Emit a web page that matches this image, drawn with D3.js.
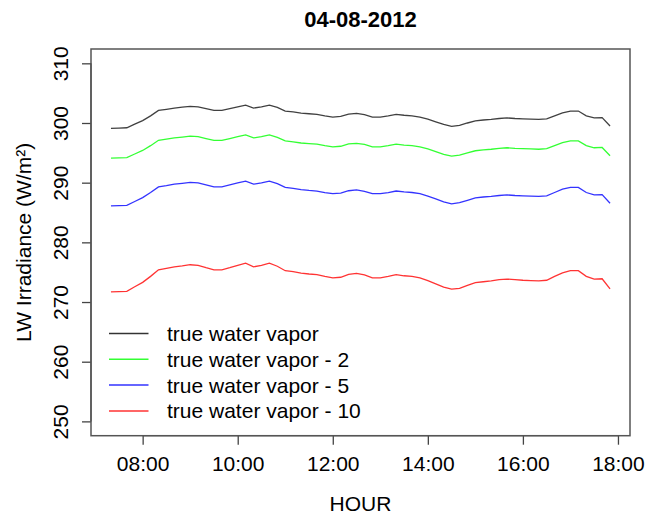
<!DOCTYPE html>
<html>
<head>
<meta charset="utf-8">
<script src="https://cdn.jsdelivr.net/npm/d3@7"></script>
<style>
  body { margin: 0; background: #fff; }
  text { font-family: "Liberation Sans", Arial, sans-serif; fill: #000; }
</style>
</head>
<body>
<div id="chart"></div>
<script>
// time stamps (10 min steps) on 04-08-2012
const times = [
  "07:20","07:30","07:40","07:50","08:00","08:10","08:20","08:30","08:40","08:50",
  "09:00","09:10","09:20","09:30","09:40","09:50","10:00","10:10","10:20","10:30",
  "10:40","10:50","11:00","11:10","11:20","11:30","11:40","11:50","12:00","12:10",
  "12:20","12:30","12:40","12:50","13:00","13:10","13:20","13:30","13:40","13:50",
  "14:00","14:10","14:20","14:30","14:40","14:50","15:00","15:10","15:20","15:30",
  "15:40","15:50","16:00","16:10","16:20","16:30","16:40","16:50","17:00","17:10",
  "17:20","17:30","17:40","17:50"
];

const trueWV = [
  299.1,299.15,299.2,299.8,300.4,301.2,302.1,302.3,302.5,302.65,
  302.8,302.7,302.4,302.1,302.1,302.4,302.7,303.0,302.5,302.7,
  303.0,302.6,302.0,301.85,301.65,301.55,301.45,301.2,301.0,301.1,
  301.5,301.6,301.4,301.0,301.0,301.2,301.45,301.3,301.2,301.0,
  300.65,300.2,299.75,299.45,299.6,300.0,300.35,300.5,300.6,300.75,
  300.85,300.75,300.7,300.65,300.6,300.7,301.2,301.7,302.0,302.0,
  301.2,300.85,300.9,299.5
];

const wvMinus2 = [
  294.1,294.15,294.2,294.8,295.4,296.2,297.1,297.3,297.5,297.65,
  297.8,297.7,297.4,297.1,297.1,297.4,297.7,298.0,297.5,297.7,
  298.0,297.6,297.0,296.85,296.65,296.55,296.45,296.2,296.0,296.1,
  296.5,296.6,296.4,296.0,296.0,296.2,296.45,296.3,296.2,296.0,
  295.65,295.2,294.75,294.45,294.6,295.0,295.35,295.5,295.6,295.75,
  295.85,295.75,295.7,295.65,295.6,295.7,296.2,296.7,297.0,297.0,
  296.2,295.85,295.9,294.5
];

const wvMinus5 = [
  286.1,286.15,286.2,286.85,287.5,288.35,289.3,289.5,289.75,289.9,
  290.05,289.95,289.65,289.3,289.3,289.65,289.95,290.25,289.75,289.95,
  290.25,289.85,289.2,289.05,288.85,288.7,288.6,288.35,288.15,288.25,
  288.65,288.8,288.55,288.15,288.15,288.35,288.6,288.45,288.35,288.15,
  287.75,287.3,286.8,286.45,286.65,287.05,287.45,287.6,287.7,287.85,
  287.95,287.85,287.8,287.75,287.7,287.8,288.35,288.9,289.2,289.2,
  288.35,287.95,288.0,286.55
];

const wvMinus10 = [
  271.7,271.75,271.8,272.55,273.3,274.3,275.4,275.65,275.9,276.05,
  276.25,276.15,275.75,275.4,275.4,275.75,276.15,276.5,275.9,276.15,
  276.5,276.0,275.25,275.1,274.85,274.7,274.6,274.3,274.05,274.15,
  274.65,274.8,274.55,274.05,274.05,274.3,274.6,274.4,274.3,274.05,
  273.6,273.05,272.5,272.15,272.3,272.8,273.25,273.4,273.55,273.75,
  273.85,273.75,273.65,273.6,273.55,273.65,274.3,274.9,275.25,275.25,
  274.3,273.85,273.9,272.2
];

const seriesNames = ["true water vapor", "true water vapor - 2", "true water vapor - 5", "true water vapor - 10"];
const seriesColors = ["#000000", "#00ff00", "#0000ff", "#ff0000"];
const yTicks = [250, 260, 270, 280, 290, 300, 310];
const xTickLabels = ["08:00", "10:00", "12:00", "14:00", "16:00", "18:00"];

const allSeries = [trueWV, wvMinus2, wvMinus5, wvMinus10];

const margin = { top: 49, right: 17, bottom: 79.3, left: 91 },
      width = 647 - margin.left - margin.right,
      height = 515 - margin.top - margin.bottom;

const parseT = d3.timeParse("%Y-%m-%d %H:%M");
const dates = times.map(t => parseT("2012-04-08 " + t));

const svg = d3.select("#chart").append("svg")
    .attr("width", 647)
    .attr("height", 515);

const g = svg.append("g")
    .attr("transform", `translate(${margin.left}, ${margin.top})`);

// R style 4% padding on both axes
const xExt = d3.extent(dates);
const xPad = (xExt[1] - xExt[0]) * 0.04;
const x = d3.scaleTime()
    .domain([new Date(+xExt[0] - xPad), new Date(+xExt[1] + xPad)])
    .range([0, width]);

const yPad = (310 - 250) * 0.04;
const y = d3.scaleLinear()
    .domain([250 - yPad, 310 + yPad])
    .range([height, 0]);

const xTickDates = xTickLabels.map(t => parseT("2012-04-08 " + t));

// x axis
const xAxis = g.append("g")
    .attr("transform", `translate(0, ${height})`)
    .call(d3.axisBottom(x).tickValues(xTickDates).tickSize(9).tickFormat(d3.timeFormat("%H:%M")));
xAxis.select(".domain").remove();
xAxis.selectAll("line").attr("stroke", "#444").attr("stroke-width", 1.3);
xAxis.selectAll("text")
    .attr("y", 35.5)
    .attr("dy", 0)
    .style("font-size", "21px")
    .style("font-family", "'Liberation Sans', Arial, sans-serif");
xAxis.append("line")
    .attr("x1", x(xTickDates[0]))
    .attr("x2", x(xTickDates[xTickDates.length - 1]))
    .attr("stroke", "#444")
    .attr("stroke-width", 1.3);

// y axis
const yAxis = g.append("g")
    .call(d3.axisLeft(y).tickValues(yTicks).tickSize(9));
yAxis.select(".domain").remove();
yAxis.selectAll("line").attr("stroke", "#444").attr("stroke-width", 1.3);
yAxis.selectAll("text")
    .attr("transform", "rotate(-90)")
    .attr("x", 0)
    .attr("y", -23)
    .attr("dy", 0)
    .attr("text-anchor", "middle")
    .style("font-size", "21px")
    .style("font-family", "'Liberation Sans', Arial, sans-serif");
yAxis.append("line")
    .attr("y1", y(yTicks[0]))
    .attr("y2", y(yTicks[yTicks.length - 1]))
    .attr("stroke", "#444")
    .attr("stroke-width", 1.3);

// box
g.append("rect")
    .attr("width", width)
    .attr("height", height)
    .attr("fill", "none")
    .attr("stroke", "#555")
    .attr("stroke-width", 1.5);

// lines
const line = d3.line()
    .x((d, i) => x(dates[i]))
    .y(d => y(d));

allSeries.forEach((s, k) => {
    g.append("path")
        .datum(s)
        .attr("fill", "none")
        .attr("stroke", seriesColors[k])
        .attr("stroke-opacity", k === 0 ? 0.75 : 0.8)
        .attr("stroke-width", 1.3)
        .attr("d", line);
});

// legend
const legend = g.append("g");
seriesNames.forEach((name, k) => {
    const ly = 333.5 - margin.top + k * 25.8;
    legend.append("line")
        .attr("x1", 109 - margin.left)
        .attr("x2", 148.5 - margin.left)
        .attr("y1", ly)
        .attr("y2", ly)
        .attr("stroke", seriesColors[k])
        .attr("stroke-opacity", 0.8)
        .attr("stroke-width", 1.5);
    legend.append("text")
        .attr("x", 167 - margin.left)
        .attr("y", ly + 7.5)
        .style("font-size", "21px")
        .text(name);
});

// title and axis labels
svg.append("text")
    .attr("x", margin.left + width / 2)
    .attr("y", 26.5)
    .attr("text-anchor", "middle")
    .style("font-size", "22px")
    .style("font-weight", "bold")
    .text("04-08-2012");

svg.append("text")
    .attr("x", margin.left + width / 2)
    .attr("y", 510.5)
    .attr("text-anchor", "middle")
    .style("font-size", "21px")
    .text("HOUR");

svg.append("text")
    .attr("transform", `translate(31, ${margin.top + height / 2}) rotate(-90)`)
    .attr("text-anchor", "middle")
    .style("font-size", "21px")
    .text("LW Irradiance (W/m²)");
</script>
</body>
</html>
